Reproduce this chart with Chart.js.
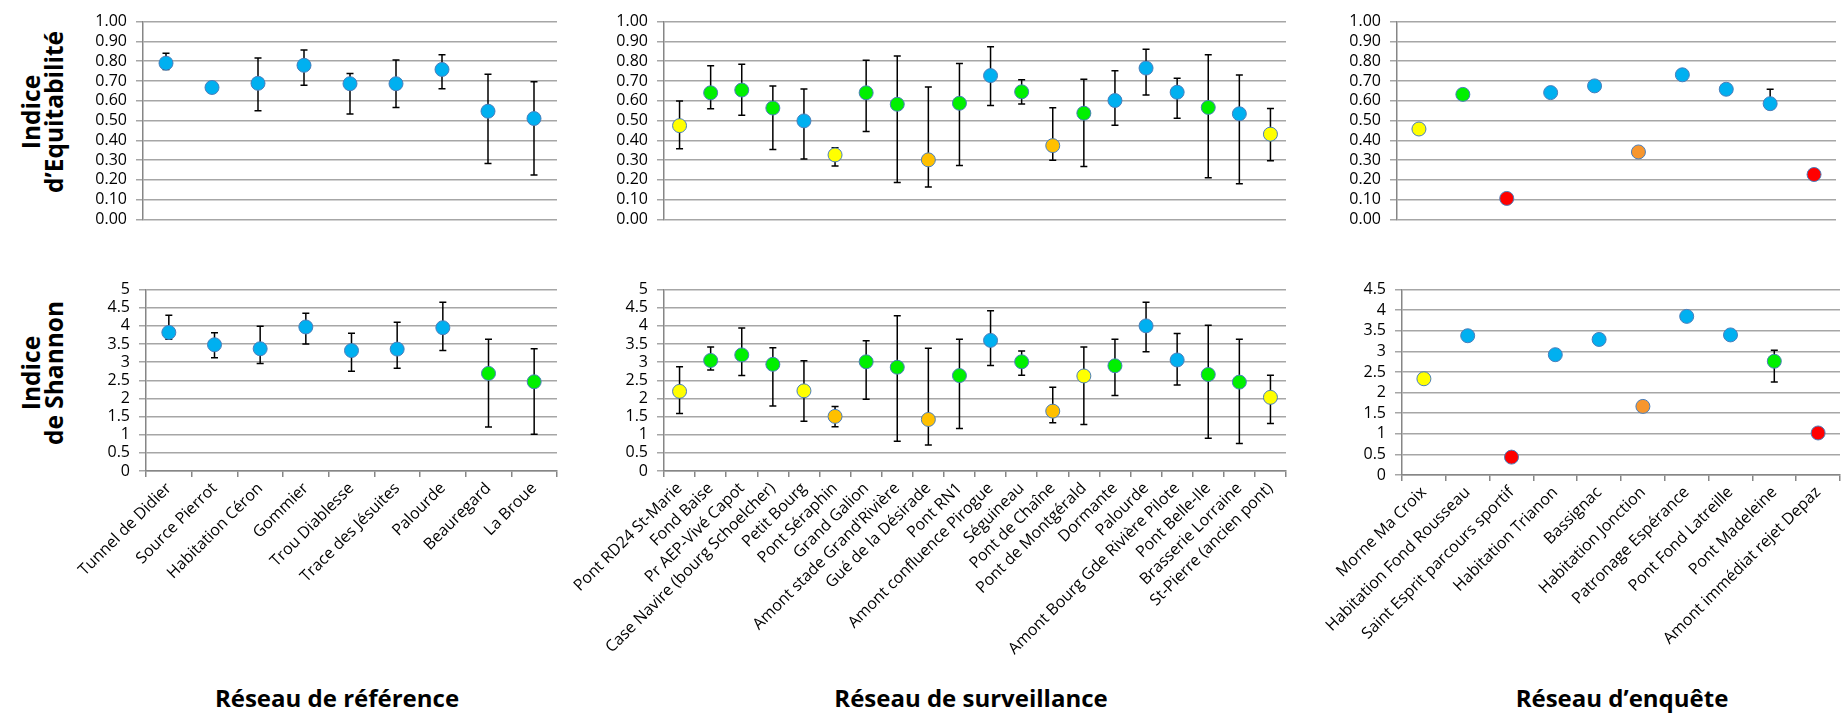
<!DOCTYPE html>
<html>
<head>
<meta charset="utf-8">
<script src="https://cdn.jsdelivr.net/npm/chart.js@4.4.1/dist/chart.umd.min.js"></script>
<style>
  body { margin: 0; background: #fff; width: 1848px; height: 715px; position: relative; overflow: hidden; font-family: "Open Sans", sans-serif; }
  canvas { position: absolute; }
  .net { position: absolute; font-weight: 700; font-size: 24px; line-height: 24px; white-space: nowrap; transform: translateX(-50%); color: #000; }
  .ytitle { position: absolute; font-weight: 700; font-size: 24.5px; line-height: 23px; text-align: center; white-space: nowrap; transform: translate(-50%, -50%) rotate(-90deg); color: #000; }
</style>
</head>
<body>
<div class="ytitle" style="left:42px; top:112px">Indice<br>d’Equitabilité</div>
<div class="ytitle" style="left:42px; top:373px">Indice<br>de Shannon</div>
<div class="net" style="left:337px; top:686px">Réseau de référence</div>
<div class="net" style="left:971px; top:686px">Réseau de surveillance</div>
<div class="net" style="left:1622px; top:686px">Réseau d’enquête</div>

<script>
/******************* DATA *******************/
// classes : TB = très bon, B = bon, Moy = moyen, Med = médiocre, Mv = mauvais

/********** Réseau de référence **********/
const refSites = ["Tunnel de Didier", "Source Pierrot", "Habitation Céron", "Gommier", "Trou Diablesse",
  "Trace des Jésuites", "Palourde", "Beauregard", "La Broue"];
const refEq     = [0.79, 0.667, 0.688, 0.779, 0.686, 0.686, 0.758, 0.547, 0.51];
const refEqLow  = [0.758, 0.645, 0.549, 0.678, 0.533, 0.566, 0.66, 0.283, 0.224];
const refEqHigh = [0.84, 0.675, 0.816, 0.856, 0.738, 0.806, 0.832, 0.734, 0.696];
const refEqClass = ["TB", "TB", "TB", "TB", "TB", "TB", "TB", "TB", "TB"];
const refSh     = [3.82, 3.48, 3.37, 3.97, 3.32, 3.36, 3.95, 2.69, 2.46];
const refShLow  = [3.63, 3.12, 2.96, 3.50, 2.75, 2.83, 3.32, 1.21, 1.01];
const refShHigh = [4.29, 3.81, 3.99, 4.35, 3.80, 4.10, 4.65, 3.63, 3.37];
const refShClass = ["TB", "TB", "TB", "TB", "TB", "TB", "TB", "B", "B"];

/********** Réseau de surveillance **********/
const survSites = ["Pont RD24 St-Marie", "Fond Baise", "Pr AEP-Vivé Capot", "Case Navire (bourg Schoelcher)",
  "Petit Bourg", "Pont Séraphin", "Grand Galion", "Amont stade Grand'Rivière", "Gué de la Désirade", "Pont RN1",
  "Amont confluence Pirogue", "Séguineau", "Pont de Chaîne", "Pont de Montgérald", "Dormante", "Palourde",
  "Amont Bourg Gde Rivière Pilote", "Pont Belle-Ile", "Brasserie Lorraine", "St-Pierre (ancien pont)"];
const survEq     = [0.474, 0.640, 0.654, 0.563, 0.498, 0.326, 0.640, 0.582, 0.301, 0.587,
  0.727, 0.645, 0.373, 0.537, 0.601, 0.765, 0.643, 0.566, 0.534, 0.431];
const survEqLow  = [0.357, 0.559, 0.526, 0.354, 0.305, 0.270, 0.444, 0.186, 0.164, 0.272,
  0.576, 0.584, 0.299, 0.268, 0.476, 0.629, 0.511, 0.211, 0.180, 0.296];
const survEqHigh = [0.598, 0.777, 0.785, 0.674, 0.659, 0.362, 0.804, 0.826, 0.669, 0.788,
  0.873, 0.706, 0.564, 0.709, 0.752, 0.860, 0.714, 0.833, 0.730, 0.561];
const survEqClass = ["Moy", "B", "B", "B", "TB", "Moy", "B", "B", "Med", "B",
  "TB", "B", "Med", "B", "TB", "TB", "TB", "B", "TB", "Moy"];
const survSh     = [2.195, 3.047, 3.20, 2.94, 2.21, 1.505, 3.01, 2.86, 1.42, 2.63,
  3.60, 3.01, 1.65, 2.62, 2.90, 4.00, 3.06, 2.66, 2.45, 2.03];
const survShLow  = [1.586, 2.787, 2.63, 1.79, 1.37, 1.22, 1.98, 0.82, 0.72, 1.17,
  2.91, 2.64, 1.33, 1.28, 2.08, 3.29, 2.37, 0.90, 0.76, 1.31];
const survShHigh = [2.876, 3.42, 3.94, 3.40, 3.04, 1.78, 3.59, 4.28, 3.38, 3.63,
  4.42, 3.31, 2.31, 3.42, 3.63, 4.65, 3.79, 4.02, 3.63, 2.64];
const survShClass = ["Moy", "B", "B", "B", "Moy", "Med", "B", "B", "Med", "B",
  "TB", "B", "Med", "Moy", "B", "TB", "TB", "B", "B", "Moy"];

/********** Réseau d'enquête **********/
const enqSites = ["Morne Ma Croix", "Habitation Fond Rousseau", "Saint Esprit parcours sportif", "Habitation Trianon",
  "Bassignac", "Habitation Jonction", "Patronage Espérance", "Pont Fond Latreille", "Pont Madeleine",
  "Amont immédiat rejet Depaz"];
const enqEq     = [0.457, 0.632, 0.106, 0.641, 0.675, 0.341, 0.731, 0.658, 0.585, 0.227];
const enqEqLow  = [null, null, null, null, null, null, null, null, 0.57, null];
const enqEqHigh = [null, null, null, null, null, null, null, null, 0.658, null];
const enqEqClass = ["Moy", "B", "Mv", "TB", "TB", "Med", "TB", "TB", "TB", "Mv"];
const enqSh     = [2.336, 3.38, 0.434, 2.92, 3.29, 1.665, 3.85, 3.40, 2.76, 1.02];
const enqShLow  = [null, null, null, null, null, null, null, null, 2.26, null];
const enqShHigh = [null, null, null, null, null, null, null, null, 3.03, null];
const enqShClass = ["Moy", "TB", "Mv", "TB", "TB", "Med", "TB", "TB", "B", "Mv"];
/************************************************/

/********** STYLE **********/
const PALETTE = { TB: "#00B0F0", B: "#00F000", Moy: "#FFFF00", Med: "#FFC000", Mv: "#FF0000" };
const PALETTE_ENQ = Object.assign({}, PALETTE, { Med: "#F7962E" });
const FONT = "'Open Sans', sans-serif";
const GRID = "#A6A6A6";
const AXIS = "#868686";

/********** ERROR BARS (drawn under the markers) **********/
const errorBars = {
  id: "errorBars",
  beforeDatasetsDraw(chart) {
    const { ctx, scales: { x, y } } = chart;
    const ds = chart.data.datasets[0];
    if (!ds.errLow) return;
    ctx.save();
    ctx.strokeStyle = "#000";
    ctx.lineWidth = 1.5;
    ds.errLow.forEach((lo, i) => {
      const hi = ds.errHigh[i];
      if (lo == null || hi == null) return;
      const px = x.getPixelForValue(i);
      const yl = y.getPixelForValue(lo);
      const yh = y.getPixelForValue(hi);
      ctx.beginPath();
      ctx.moveTo(px, yl); ctx.lineTo(px, yh);
      ctx.moveTo(px - 3.5, yl); ctx.lineTo(px + 3.5, yl);
      ctx.moveTo(px - 3.5, yh); ctx.lineTo(px + 3.5, yh);
      ctx.stroke();
    });
    ctx.restore();
  }
};

/********** PANEL FACTORY **********/
function makePanel(p) {
  const yW = 150, padTop = 14, padRight = 6, padBottom = 14;
  const plotW = p.right - p.left;
  const plotH = p.bottom - p.top;
  const xH = p.showX ? 235 : 0;
  const cv = document.createElement("canvas");
  cv.width = yW + plotW + padRight;
  cv.height = padTop + plotH + (p.showX ? xH : padBottom);
  cv.style.width = cv.width + "px";
  cv.style.height = cv.height + "px";
  cv.style.left = (p.left - yW) + "px";
  cv.style.top = (p.top - padTop) + "px";
  document.body.appendChild(cv);

  const pal = p.palette || PALETTE;

  return new Chart(cv, {
    type: "line",
    data: {
      labels: p.labels,
      datasets: [{
        data: p.values,
        errLow: p.low,
        errHigh: p.high,
        showLine: false,
        pointRadius: 7,
        pointBorderWidth: 1,
        pointBorderColor: "#4A7EBB",
        pointBackgroundColor: p.classes.map(c => pal[c])
      }]
    },
    options: {
      responsive: false,
      animation: false,
      layout: { padding: { top: padTop, right: padRight, left: 0, bottom: p.showX ? 0 : padBottom } },
      plugins: { legend: { display: false }, tooltip: { enabled: false } },
      scales: {
        x: {
          type: "category",
          offset: true,
          display: p.showX,
          border: { color: AXIS, width: 1.5 },
          grid: { offset: true, drawOnChartArea: false, drawTicks: true, tickLength: 6, color: AXIS, lineWidth: 1.5 },
          ticks: {
            autoSkip: false, minRotation: 45, maxRotation: 45, padding: 2,
            color: "#000", font: { family: FONT, size: 16 }
          },
          afterFit(s) { s.height = xH; }
        },
        y: {
          min: 0,
          max: p.yMax,
          border: { color: AXIS, width: 1.5 },
          grid: { color: GRID, lineWidth: 1.5, drawTicks: true, tickLength: 7 },
          ticks: {
            stepSize: p.step, autoSkip: false, padding: 9, color: "#000",
            font: { family: FONT, size: 16 },
            callback: v => p.decimals ? Number(v).toFixed(p.decimals) : String(Math.round(v * 10) / 10)
          },
          afterFit(s) { s.width = yW; }
        }
      }
    },
    plugins: [errorBars]
  });
}

/********** BUILD **********/
makePanel({ left: 143, right: 559, top: 16.5, bottom: 224, showX: false, yMax: 1, step: 0.1, decimals: 2,
  labels: refSites, values: refEq, low: refEqLow, high: refEqHigh, classes: refEqClass });
makePanel({ left: 146, right: 559, top: 285, bottom: 471, showX: true, yMax: 5, step: 0.5, decimals: 0,
  labels: refSites, values: refSh, low: refShLow, high: refShHigh, classes: refShClass });

makePanel({ left: 664, right: 1288, top: 16.5, bottom: 224, showX: false, yMax: 1, step: 0.1, decimals: 2,
  labels: survSites, values: survEq, low: survEqLow, high: survEqHigh, classes: survEqClass });
makePanel({ left: 664, right: 1288, top: 285, bottom: 471, showX: true, yMax: 5, step: 0.5, decimals: 0,
  labels: survSites, values: survSh, low: survShLow, high: survShHigh, classes: survShClass });

makePanel({ left: 1397, right: 1838, top: 16.5, bottom: 224, showX: false, yMax: 1, step: 0.1, decimals: 2,
  labels: enqSites, values: enqEq, low: enqEqLow, high: enqEqHigh, classes: enqEqClass, palette: PALETTE_ENQ });
makePanel({ left: 1402, right: 1842, top: 285, bottom: 475, showX: true, yMax: 4.5, step: 0.5, decimals: 0,
  labels: enqSites, values: enqSh, low: enqShLow, high: enqShHigh, classes: enqShClass, palette: PALETTE_ENQ });
</script>
</body>
</html>
